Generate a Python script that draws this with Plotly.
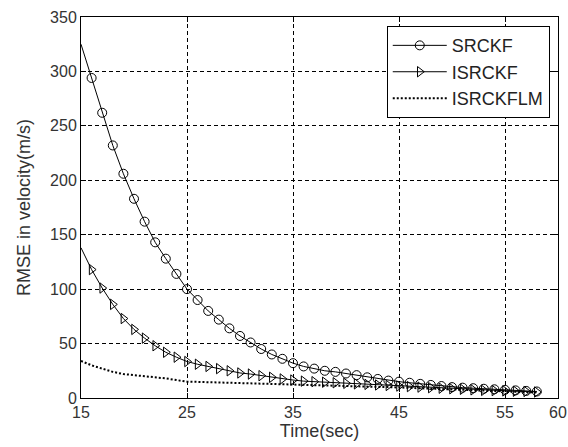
import plotly.graph_objects as go

time_sec = list(range(15, 59))

srckf = [325, 294, 262, 232, 206, 183, 162, 143, 128, 114,
         100, 90, 80, 72, 64, 57, 51, 45, 40, 36,
         32, 29, 27, 25, 24, 22.5, 21, 19, 17.5, 16,
         15, 14, 13, 12, 11, 10, 9.5, 9, 8.5, 8,
         7.5, 7, 6.5, 6]

isrckf = [138, 118, 101, 86, 73, 63, 55, 48, 42, 37.5,
          33.5, 31, 29, 27, 25, 23, 22, 20.5, 19, 17.5,
          16.5, 15.5, 15, 14.5, 14, 13.5, 13, 12.5, 12, 11.5,
          11, 10.5, 10, 9.5, 9, 8.5, 8, 7.5, 7, 6.8,
          6.5, 6.2, 6, 5.5]

isrckflm = [34, 30, 27, 24, 22, 21, 20, 19.5, 18, 16.5,
            15, 14.8, 14.5, 14.2, 14, 13.5, 13.2, 13, 12.8, 12.5,
            12.2, 12, 11.8, 11.5, 11.2, 11, 10.8, 10.5, 10.2, 10,
            9.7, 9.4, 9.1, 8.8, 8.5, 8.2, 7.8, 7.4, 7, 6.6,
            6.2, 5.8, 5.4, 5]

x_ticks = [15, 25, 35, 45, 55, 60]
y_ticks = [0, 50, 100, 150, 200, 250, 300, 350]

FONT = "Liberation Sans, Arial, sans-serif"

fig = go.Figure()
# first segment (no marker at the very first sample)
fig.add_trace(go.Scatter(
    x=time_sec[:2], y=srckf[:2], mode="lines", showlegend=False,
    line=dict(color="black", width=1), hoverinfo="skip",
))
fig.add_trace(go.Scatter(
    x=time_sec[:2], y=isrckf[:2], mode="lines", showlegend=False,
    line=dict(color="black", width=1), hoverinfo="skip",
))
fig.add_trace(go.Scatter(
    x=time_sec[1:], y=srckf[1:], name="SRCKF", mode="lines+markers",
    line=dict(color="black", width=1),
    marker=dict(symbol="circle-open", size=9, color="black",
                line=dict(width=1, color="black")),
))
fig.add_trace(go.Scatter(
    x=time_sec[1:], y=isrckf[1:], name="ISRCKF", mode="lines+markers",
    line=dict(color="black", width=1),
    marker=dict(symbol="triangle-right-open", size=9, color="black",
                line=dict(width=1, color="black")),
))
fig.add_trace(go.Scatter(
    x=time_sec, y=isrckflm, name="ISRCKFLM", mode="lines",
    line=dict(color="black", width=2, dash="2px,2px"),
))

tick_font = dict(family=FONT, size=16, color="#333333")

fig.update_layout(
    width=568, height=447,
    margin=dict(l=81, r=10, t=17, b=49),
    paper_bgcolor="white", plot_bgcolor="white",
    font=tick_font,
    showlegend=True,
    legend=dict(x=0.641, y=0.976, xanchor="left", yanchor="top",
                bgcolor="white", bordercolor="black", borderwidth=1,
                font=dict(family=FONT, size=18, color="#222222"),
                itemwidth=54, tracegroupgap=0),
    xaxis=dict(
        range=[15, 60], tickvals=x_ticks, ticktext=[str(v) for v in x_ticks],
        tickfont=tick_font, ticklabeloverflow="allow",
        showgrid=True, gridcolor="black", griddash="4px,3px", gridwidth=1,
        showline=True, linecolor="black", linewidth=1, mirror="ticks",
        ticks="inside", ticklen=5, tickcolor="black", zeroline=False,
        automargin=False,
        title=dict(text="Time(sec)", font=dict(family=FONT, size=18, color="#333333"), standoff=2),
    ),
    yaxis=dict(
        range=[0, 350], tickvals=y_ticks, ticktext=[str(v) for v in y_ticks],
        tickfont=tick_font, ticklabeloverflow="allow",
        showgrid=True, gridcolor="black", griddash="4px,3px", gridwidth=1,
        showline=True, linecolor="black", linewidth=1, mirror="ticks",
        ticks="inside", ticklen=5, tickcolor="black", zeroline=False,
        automargin=False,
        title=dict(text="RMSE in velocity(m/s)", font=dict(family=FONT, size=18, color="#333333"), standoff=14),
    ),
)

fig.write_html(
    "out.html",
    config={"displayModeBar": False},
    post_script="document.body.style.margin='0';document.body.style.overflow='hidden';",
)
